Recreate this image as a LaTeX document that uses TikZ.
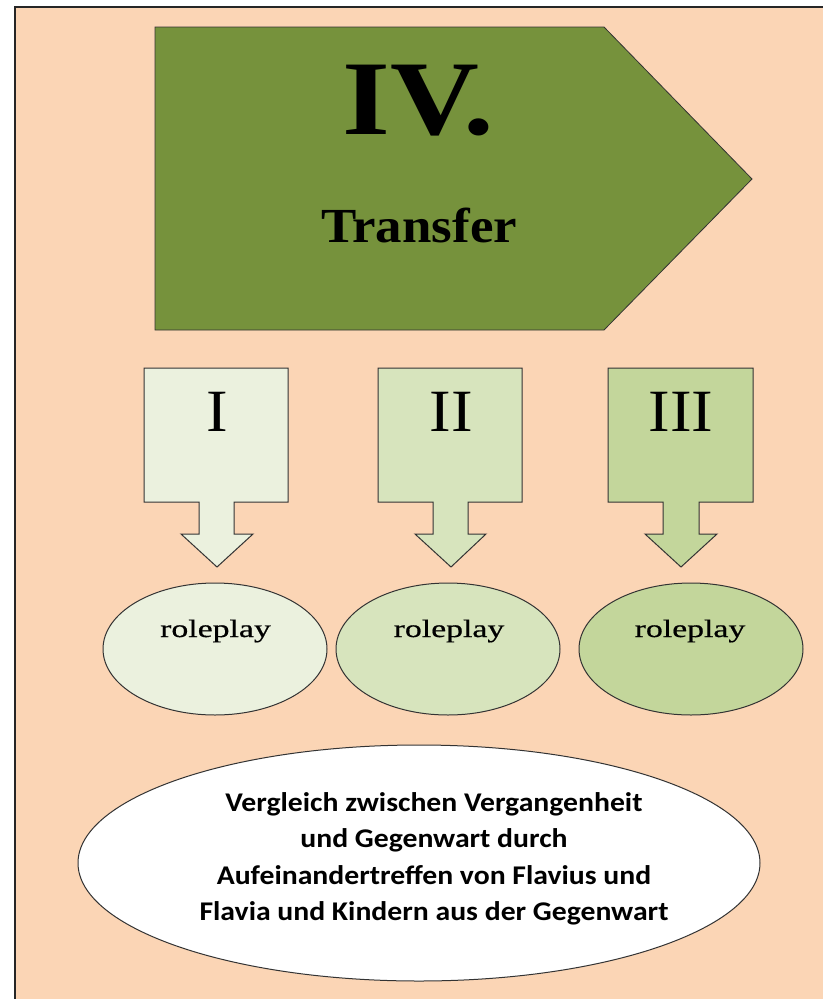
\documentclass[tikz,border=0pt]{standalone}
\usepackage{fontspec}
\setmainfont{Liberation Serif}
\newfontfamily\romfont[FakeStretch=1.08]{Liberation Serif}
\newfontfamily\titlefont[FakeStretch=1.16]{Liberation Serif}
\newfontfamily\rolefont[FakeStretch=1.35,FakeBold=0.6]{Liberation Serif}
\newfontfamily\calfont[FakeStretch=1.1]{Carlito}
\definecolor{peach}{HTML}{FBD5B5}
\definecolor{olivedark}{HTML}{76923C}
\definecolor{greenA}{HTML}{EBF1DE}
\definecolor{greenB}{HTML}{D7E4BD}
\definecolor{greenC}{HTML}{C3D69B}
\definecolor{edge}{HTML}{333333}
\tikzset{
  callout/.style={draw=edge, line width=1pt},
  roleell/.style={ellipse, draw=edge, line width=1pt, minimum width=224pt, minimum height=132pt, inner sep=0pt},
  numtext/.style={inner sep=0pt, font=\romfont\fontsize{60}{60}\selectfont},
  roletext/.style={anchor=base, inner sep=0pt, font=\rolefont\fontsize{25}{25}\selectfont}
}
\usetikzlibrary{shapes.geometric}
\begin{document}
\begin{tikzpicture}[x=1pt,y=-1pt]
\useasboundingbox (0,0) rectangle (823,999);
\fill[white] (0,0) rectangle (823,999);
\fill[peach] (15,7) rectangle (823,999);
\draw[line width=1.6pt, black!85] (15,999) -- (15,7) -- (823,7);

% header pentagon
\draw[fill=olivedark, draw=black!80, line width=0.8pt]
  (155,27) -- (604,27) -- (752,179) -- (604,330) -- (155,330) -- cycle;
\node[anchor=base, inner sep=0pt] (title) at (418,134)
  {\titlefont\bfseries\fontsize{106}{106}\selectfont IV.};
\node[anchor=base, inner sep=0pt] (sub) at (419,242)
  {\romfont\bfseries\fontsize{49}{49}\selectfont Transfer};

% callouts
\draw[callout, fill=greenA] (144,368) -- (288,368) -- (288,502) -- (234,502) -- (234,534) -- (253,534) -- (217,567) -- (181,534) -- (199,534) -- (199,502) -- (144,502) -- cycle;
\draw[callout, fill=greenB] (378,368) -- (522,368) -- (522,502) -- (468,502) -- (468,534) -- (486,534) -- (451,567) -- (415,534) -- (433,534) -- (433,502) -- (378,502) -- cycle;
\draw[callout, fill=greenC] (608,368) -- (753,368) -- (753,502) -- (699,502) -- (699,534) -- (717,534) -- (681,567) -- (645,534) -- (663,534) -- (663,502) -- (608,502) -- cycle;
\node[numtext] (n1) at (217,412) {I};
\node[numtext] (n2) at (451,412) {II};
\node[numtext] (n3) at (681,412) {III};

% roleplay ellipses
\node[roleell, fill=greenA] (e1) at (215,649) {};
\node[roleell, fill=greenB] (e2) at (448,649) {};
\node[roleell, fill=greenC] (e3) at (691,649) {};
\node[roletext] (r1) at (215.5,637) {roleplay};
\node[roletext] (r2) at (449,637) {roleplay};
\node[roletext] (r3) at (690,637) {roleplay};

% bottom ellipse
\node[ellipse, draw=edge, line width=1pt, fill=white, minimum width=682pt, minimum height=236pt, inner sep=0pt] (big) at (419,863) {};
\node[align=center, inner sep=0pt, font=\calfont\bfseries\fontsize{27}{36.5}\selectfont] (desc) at (434,859)
  {Vergleich zwischen Vergangenheit\\und Gegenwart durch\\Aufeinandertreffen von Flavius und\\Flavia und Kindern aus der Gegenwart};
\end{tikzpicture}
\end{document}
